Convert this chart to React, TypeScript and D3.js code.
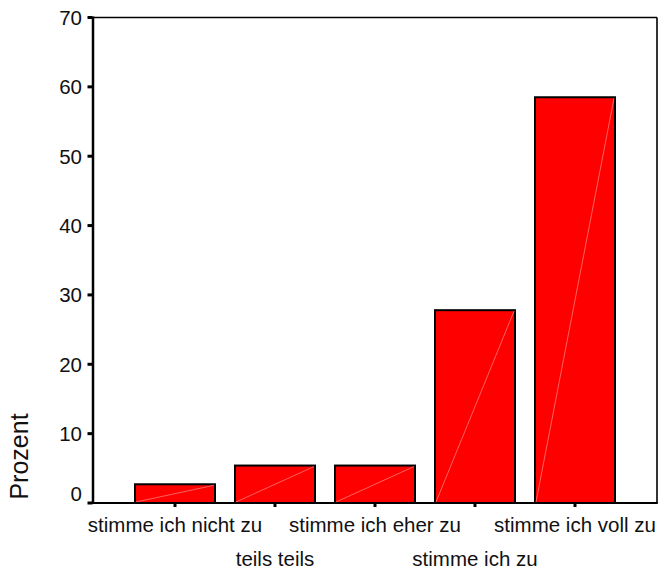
import React from "react";
import * as d3 from "d3";

const categories = [
  "stimme ich nicht zu",
  "teils teils",
  "stimme ich eher zu",
  "stimme ich zu",
  "stimme ich voll zu",
];
const percents = [2.7, 5.4, 5.4, 27.8, 58.5];
const yTicks = [0, 10, 20, 30, 40, 50, 60, 70];
const yLabel = "Prozent";

const W = 664;
const H = 570;
const left = 93;
const right = 657;
const top = 17.5;
const bottom = 503;
const font = "'Liberation Sans', Arial, Helvetica, sans-serif";

export default function App() {
  const y = d3.scaleLinear().domain([0, 70]).range([bottom, top]);
  const x = d3
    .scaleBand<string>()
    .domain(categories)
    .range([125, 625])
    .paddingInner(0.2)
    .paddingOuter(0.1);

  return (
    <svg
      width={W}
      height={H}
      style={{ position: "absolute", left: 0, top: 0, display: "block", background: "#fff" }}
    >
      {/* frame */}
      <line x1={left} x2={right} y1={top} y2={top} stroke="#000" strokeWidth={1.6} />
      <line x1={right} x2={right} y1={top} y2={bottom} stroke="#000" strokeWidth={1.6} />

      {/* bars */}
      {categories.map((c, i) => {
        const x0 = x(c)!;
        const x1 = x0 + x.bandwidth();
        const y0 = y(percents[i]);
        return (
          <g key={c}>
            <rect
              x={x0}
              y={y0}
              width={x.bandwidth()}
              height={bottom - y0}
              fill="#ff0000"
              stroke="#000"
              strokeWidth={2}
            />
            <line x1={x0 + 1} y1={bottom - 1} x2={x1 - 1} y2={y0 + 1} stroke="#ff8a8a" strokeWidth={0.7} />
          </g>
        );
      })}

      {/* axes */}
      <line x1={left} x2={left} y1={top - 1} y2={bottom + 1} stroke="#000" strokeWidth={2.5} />
      <line x1={left - 3} x2={right + 0.8} y1={bottom} y2={bottom} stroke="#000" strokeWidth={2.2} />

      {/* y ticks */}
      {yTicks.map((t) => (
        <g key={t}>
          <rect x={left - 5.5} y={y(t) - 1.5} width={5} height={3} fill="#000" />
          <text
            x={82}
            y={y(t) + (t === 0 ? -10 : 0)}
            textAnchor="end"
            dominantBaseline="central"
            fontFamily={font}
            fontSize={20.5}
            fill="#111"
          >
            {t}
          </text>
        </g>
      ))}

      {/* x ticks and labels */}
      {categories.map((c, i) => {
        const cx = x(c)! + x.bandwidth() / 2;
        return (
          <g key={c}>
            <rect x={cx - 1.5} y={bottom} width={3} height={4} fill="#000" />
            <text
              x={cx}
              y={i % 2 === 0 ? 532 : 566}
              textAnchor="middle"
              fontFamily={font}
              fontSize={20.5}
              fill="#111"
            >
              {c}
            </text>
          </g>
        );
      })}

      {/* y label */}
      <text
        transform={`translate(28,456.5) rotate(-90)`}
        textAnchor="middle"
        fontFamily={font}
        fontSize={25}
        fill="#111"
      >
        {yLabel}
      </text>
    </svg>
  );
}
